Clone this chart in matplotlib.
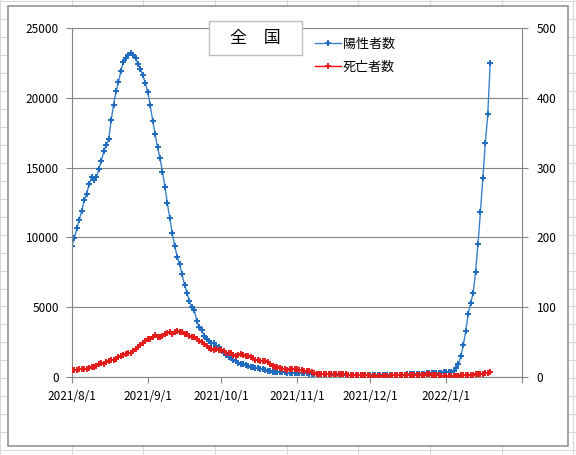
import matplotlib
matplotlib.use("Agg")
import matplotlib.pyplot as plt
from matplotlib.patches import Rectangle
from matplotlib.lines import Line2D
import pandas as pd

plt.rcParams['font.family'] = ['Noto Sans CJK JP', 'DejaVu Sans']

# daily values from 2021/8/1
start_date = '2021-08-01'
positives = [
    9400, 9980, 10650, 11270, 11910, 12650, 13130, 13800, 14300, 14110,
    14330, 14900, 15500, 16170, 16640, 17020, 18390, 19510, 20460, 21130,
    21940, 22560, 22870, 23090, 23190, 23090, 22870, 22420, 22040, 21600,
    21030, 20390, 19460, 18340, 17390, 16450, 15670, 14680, 13630, 12440,
    11370, 10290, 9400, 8620, 8090, 7350, 6620, 6040, 5440, 4990,
    4780, 4040, 3580, 3390, 2940, 2700, 2560, 2460, 2420, 2250,
    2170, 1910, 1740, 1600, 1450, 1340, 1220, 1130, 1020, 960,
    910, 850, 790, 740, 690, 650, 620, 590, 550, 500,
    450, 420, 380, 360, 350, 340, 330, 325, 320, 315,
    310, 310, 310, 300, 290, 280, 260, 250, 240, 230,
    220, 210, 200, 190, 185, 180, 175, 170, 170, 165,
    160, 160, 155, 150, 150, 145, 145, 140, 140, 135,
    130, 130, 125, 125, 125, 120, 120, 120, 125, 125,
    130, 135, 140, 145, 150, 160, 170, 180, 190, 200,
    210, 220, 230, 240, 250, 260, 270, 280, 290, 300,
    310, 320, 330, 340, 350, 380, 450, 620, 910, 1500,
    2270, 3320, 4510, 5280, 6000, 7500, 9530, 11800, 14230, 16740,
    18820, 22470,
]
deaths = [
    10, 10, 10, 11, 11, 12, 12, 13, 14, 15,
    16, 18, 20, 19, 21, 23, 25, 24, 26, 28,
    30, 31, 33, 35, 34, 37, 40, 43, 46, 48,
    51, 54, 55, 58, 60, 58, 58, 59, 61, 63,
    64, 62, 64, 66, 65, 64, 62, 61, 59, 58,
    57, 55, 52, 50, 47, 44, 41, 40, 39, 40,
    39, 38, 37, 35, 35, 34, 32, 30, 31, 33,
    32, 30, 30, 29, 27, 25, 24, 23, 23, 23,
    22, 18, 16, 15, 14, 13, 12, 11, 10, 11,
    11, 11, 11, 10, 10, 9, 9, 8, 7, 6,
    5, 5, 4, 4, 4, 4, 4, 4, 4, 4,
    4, 4, 4, 3, 3, 3, 3, 3, 3, 3,
    3, 3, 2, 2, 2, 1, 1, 1, 1, 2,
    2, 3, 3, 3, 3, 3, 3, 3, 3, 3,
    3, 3, 3, 3, 3, 4, 4, 3, 3, 3,
    3, 2, 2, 2, 1, 1, 2, 2, 2, 3,
    3, 3, 3, 3, 3, 4, 4, 5, 5, 6,
    6, 7,
]
series_names = ['陽性者数', '死亡者数']
title = '全　国'

dates = pd.date_range(start_date, periods=len(positives), freq='D')
month_ticks = pd.date_range('2021-08-01', '2022-02-01', freq='MS')
tick_labels = [f'{d.year}/{d.month}/{d.day}' for d in month_ticks[:-1]] + ['']

W, H = 576, 455
fig = plt.figure(figsize=(W / 100, H / 100), dpi=100)


def fx(px):
    return px / W


def fy(py):
    return 1 - py / H


# spreadsheet cells behind the chart
cell = '#d9d9d9'
for k in range(10):
    x = fx(-0.2 + 71.7 * k)
    fig.add_artist(Line2D([x, x], [0, 1], color=cell, lw=0.8, zorder=-3))
for k in range(27):
    y = fy(1.0 + 17.97 * k)
    fig.add_artist(Line2D([0, 1], [y, y], color=cell, lw=0.8, zorder=-3))

# chart area
fig.add_artist(Rectangle((fx(8.3), fy(446)), (568.3 - 8.3) / W, (446 - 6) / H,
                         transform=fig.transFigure, facecolor='white',
                         edgecolor='#8c8c8c', lw=1.1, zorder=-2))

axis_gray = '#868686'
ax = fig.add_axes([fx(72), fy(377), (522 - 72) / W, (377 - 28) / H])
ax.set_facecolor('none')
l1, = ax.plot(dates, positives, color='#3a82cc', lw=1.0, marker='+', ms=5,
              mew=1.4, mec='#1f6bbd', label=series_names[0])
ax.set_ylim(0, 25000)
ax.set_yticks(range(0, 25001, 5000))
ax.set_xlim(pd.Timestamp('2021-08-01'), pd.Timestamp('2022-02-01'))
ax.set_xticks(month_ticks)
ax.set_xticklabels(tick_labels)
ax.grid(axis='y', color=axis_gray, lw=0.8)
ax.set_axisbelow(True)
for s in ['top', 'right']:
    ax.spines[s].set_visible(False)
for s in ['left', 'bottom']:
    ax.spines[s].set_color(axis_gray)
    ax.spines[s].set_linewidth(0.8)
ax.tick_params(axis='both', length=4, width=0.8, color=axis_gray,
               labelsize=8.5, labelcolor='black')
ax.tick_params(axis='y', pad=5.5)
ax.tick_params(axis='x', pad=5)

ax2 = ax.twinx()
l2, = ax2.plot(dates, deaths, color='#ff0000', lw=1.0, marker='+', ms=5,
               mew=1.4, mec='#e41c1c', label=series_names[1])
ax2.set_ylim(0, 500)
ax2.set_yticks(range(0, 501, 100))
for s in ['top', 'left', 'bottom']:
    ax2.spines[s].set_visible(False)
ax2.spines['right'].set_color(axis_gray)
ax2.spines['right'].set_linewidth(0.8)
ax2.tick_params(axis='y', length=4, width=0.8, color=axis_gray,
                labelsize=8.5, pad=6.5)

fig.legend(handles=[l1, l2], labels=series_names, loc='upper left',
           bbox_to_anchor=(fx(315), fy(38)), bbox_transform=fig.transFigure,
           frameon=False, fontsize=9.4, handlelength=2.0, handletextpad=0.15,
           labelspacing=0.75, borderpad=0, borderaxespad=0, numpoints=1,
           markerscale=0.8)

# title box
fig.add_artist(Rectangle((fx(209.3), fy(55)), (302.3 - 209.3) / W, (55 - 20.7) / H,
                         transform=fig.transFigure, facecolor='white',
                         edgecolor='#bfbfbf', lw=1.0, zorder=5))
fig.text(fx(255.5), fy(38), title, ha='center', va='center', fontsize=12.2,
         zorder=6)

fig.savefig('out.png', dpi=100)
